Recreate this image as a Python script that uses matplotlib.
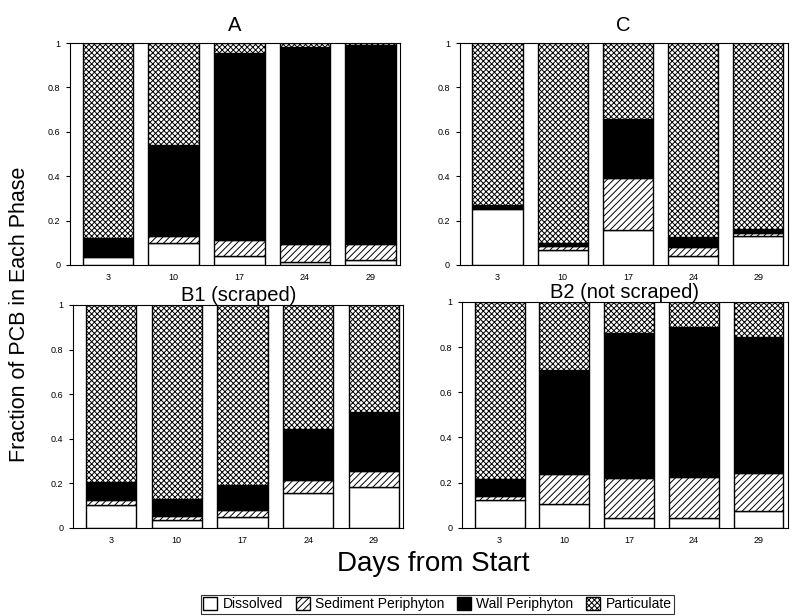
import numpy as np
import matplotlib
matplotlib.use('Agg')
import matplotlib.pyplot as plt
from matplotlib.patches import Patch

plt.rcParams['font.family'] = ['Liberation Sans', 'DejaVu Sans']
plt.rcParams['hatch.linewidth'] = 0.7

# Days sampled
days = ['3', '10', '17', '24', '29']

# Fraction of PCB in each phase, per panel (Dissolved, Sediment, Wall, Particulate)
a_dissolved = [0.035, 0.098, 0.038, 0.012, 0.020]
a_sediment = [0.005, 0.030, 0.072, 0.083, 0.075]
a_wall = [0.080, 0.412, 0.845, 0.887, 0.895]
a_particulate = [0.880, 0.460, 0.045, 0.018, 0.010]

c_dissolved = [0.252, 0.069, 0.157, 0.041, 0.130]
c_sediment = [0.005, 0.015, 0.235, 0.038, 0.015]
c_wall = [0.013, 0.015, 0.264, 0.048, 0.015]
c_particulate = [0.730, 0.901, 0.344, 0.873, 0.840]

b1_dissolved = [0.104, 0.037, 0.048, 0.157, 0.184]
b1_sediment = [0.020, 0.015, 0.031, 0.056, 0.073]
b1_wall = [0.080, 0.078, 0.115, 0.230, 0.261]
b1_particulate = [0.796, 0.870, 0.806, 0.557, 0.482]

b2_dissolved = [0.125, 0.106, 0.043, 0.043, 0.076]
b2_sediment = [0.017, 0.132, 0.177, 0.183, 0.169]
b2_wall = [0.074, 0.462, 0.641, 0.664, 0.601]
b2_particulate = [0.784, 0.300, 0.139, 0.110, 0.154]

panels = [
    ('A', [0.088, 0.570, 0.416, 0.360], 9, a_dissolved, a_sediment, a_wall, a_particulate),
    ('C', [0.579, 0.570, 0.413, 0.360], 9, c_dissolved, c_sediment, c_wall, c_particulate),
    ('B1 (scraped)', [0.092, 0.143, 0.416, 0.362], 2, b1_dissolved, b1_sediment, b1_wall, b1_particulate),
    ('B2 (not scraped)', [0.582, 0.143, 0.410, 0.367], 2, b2_dissolved, b2_sediment, b2_wall, b2_particulate),
]

fig = plt.figure(figsize=(7.94, 6.16), dpi=100)

x = np.arange(len(days))
width = 0.77
for title, rect, tpad, dis, sed, wal, par in panels:
    ax = fig.add_axes(rect)
    bottom = np.zeros(len(days))
    ax.bar(x, dis, width, bottom=bottom, color='white', edgecolor='black', linewidth=1)
    bottom += dis
    ax.bar(x, sed, width, bottom=bottom, color='white', edgecolor='black', hatch='/////', linewidth=1)
    bottom += sed
    ax.bar(x, wal, width, bottom=bottom, color='black', edgecolor='black', linewidth=1)
    bottom += wal
    ax.bar(x, par, width, bottom=bottom, color='white', edgecolor='black', hatch='xxxxxx', linewidth=1)
    ax.set_xlim(-0.58, 4.45)
    ax.set_ylim(0, 1)
    ax.set_xticks(x)
    ax.set_xticklabels(days, fontsize=6.5)
    ax.set_yticks([0, 0.2, 0.4, 0.6, 0.8, 1])
    ax.set_yticklabels(['0', '0.2', '0.4', '0.6', '0.8', '1'], fontsize=6.5)
    ax.tick_params(axis='x', length=0, pad=6)
    ax.tick_params(axis='y', length=3, width=0.8, pad=4)
    for s in ax.spines.values():
        s.set_linewidth(0.8)
    ax.set_title(title, fontsize=14.5, pad=tpad)

fig.text(0.024, 0.49, 'Fraction of PCB in Each Phase', rotation=90, fontsize=15.5,
         ha='center', va='center')
fig.text(0.546, 0.085, 'Days from Start', fontsize=20, ha='center', va='center')

handles = [
    Patch(facecolor='white', edgecolor='black', label='Dissolved'),
    Patch(facecolor='white', edgecolor='black', hatch='/////', label='Sediment Periphyton'),
    Patch(facecolor='black', edgecolor='black', label='Wall Periphyton'),
    Patch(facecolor='white', edgecolor='black', hatch='xxxxxx', label='Particulate'),
]
leg = fig.legend(handles=handles, loc='center', bbox_to_anchor=(0.551, 0.019), ncol=4,
                 fontsize=10, frameon=True, fancybox=False, edgecolor='black',
                 handlelength=1.0, handleheight=1.0, handletextpad=0.4,
                 columnspacing=0.9, borderpad=0.2)
leg.get_frame().set_linewidth(0.8)

fig.savefig('out.png', dpi=100)
